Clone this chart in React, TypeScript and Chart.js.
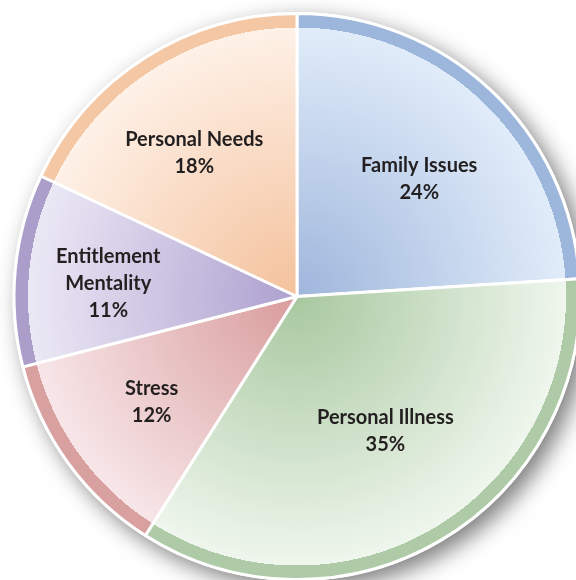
import React, { useEffect, useRef } from "react";
import { Chart, registerables } from "chart.js";

Chart.register(...registerables);

const categories: string[][] = [
  ["Family Issues"],
  ["Personal Illness"],
  ["Stress"],
  ["Entitlement", "Mentality"],
  ["Personal Needs"],
];
const values: number[] = [24, 35, 12, 11, 18];

// styling
const innerColors = ["#9fb6dc", "#a8c89f", "#d99c9c", "#ada0cf", "#f4c19b"];
const outerColors = ["#e0ecf9", "#eff6ed", "#f7e6e8", "#ebe8f5", "#fef1e7"];
const ringColors = ["#9db6dc", "#afcaa7", "#d8a09f", "#ab9ecb", "#f5c8a5"];
const labelRadius = [0.6, 0.565, 0.635, 0.67, 0.625];
const labelShiftX = [6, 7, 0, 0, -8];
const labelShiftY = [6, -3, 0, 5, 6];
const RADIUS = 283;
const RING = 14;

export default function App() {
  const ref = useRef<HTMLCanvasElement | null>(null);
  useEffect(() => {
    const canvas = ref.current;
    if (!canvas) return;

    const shadowPlugin = {
      id: "pieShadow",
      beforeDatasetsDraw(chart: any) {
        const arc = chart.getDatasetMeta(0).data[0];
        if (!arc) return;
        const ctx = chart.ctx;
        ctx.save();
        ctx.shadowColor = "rgba(0,0,0,0.5)";
        ctx.shadowBlur = 22;
        ctx.shadowOffsetX = 8;
        ctx.shadowOffsetY = 8;
        ctx.beginPath();
        ctx.arc(arc.x, arc.y, arc.outerRadius + 1.5, 0, Math.PI * 2);
        ctx.fillStyle = "#ffffff";
        ctx.fill();
        ctx.restore();
      },
    };

    const labelPlugin = {
      id: "sliceLabels",
      afterDatasetsDraw(chart: any) {
        const meta = chart.getDatasetMeta(0);
        const ctx = chart.ctx;
        ctx.save();
        ctx.font = "bold 20px Lato";
        ctx.fillStyle = "#231f20";
        ctx.textAlign = "center";
        ctx.textBaseline = "middle";
        meta.data.forEach((arc: any, i: number) => {
          const mid = (arc.startAngle + arc.endAngle) / 2;
          const r = arc.outerRadius * labelRadius[i];
          const x = arc.x + Math.cos(mid) * r + labelShiftX[i];
          const y = arc.y + Math.sin(mid) * r + labelShiftY[i];
          const lines = [...categories[i], values[i] + "%"];
          const lh = 27;
          const y0 = y - ((lines.length - 1) * lh) / 2;
          lines.forEach((t, j) => ctx.fillText(t, x, y0 + j * lh));
        });
        ctx.restore();
      },
    };

    const chart = new Chart(canvas, {
      type: "pie",
      data: {
        labels: categories,
        datasets: [
          {
            data: values,
            borderColor: "#ffffff",
            borderWidth: 3,
            backgroundColor: (c: any) => {
              const ch = c.chart;
              const area = ch.chartArea;
              const i = c.dataIndex;
              if (!area) return innerColors[i];
              const cx = (area.left + area.right) / 2;
              const cy = (area.top + area.bottom) / 2;
              const g = ch.ctx.createRadialGradient(cx, cy, 0, cx, cy, RADIUS);
              const f = (RADIUS - RING) / RADIUS;
              g.addColorStop(0, innerColors[i]);
              g.addColorStop(f, outerColors[i]);
              g.addColorStop(f, ringColors[i]);
              g.addColorStop(1, ringColors[i]);
              return g;
            },
          },
        ],
      },
      options: {
        responsive: false,
        animation: false,
        radius: RADIUS,
        layout: { padding: { left: 14, right: 20, top: 13, bottom: 0 } },
        plugins: {
          legend: { display: false },
          tooltip: { enabled: false },
        },
      } as any,
      plugins: [shadowPlugin, labelPlugin],
    });
    return () => chart.destroy();
  }, []);

  return (
    <div
      style={{
        position: "fixed",
        left: 0,
        top: 0,
        width: 576,
        height: 580,
        overflow: "hidden",
        background: "#ffffff",
      }}
    >
      <canvas ref={ref} width={600} height={580} style={{ display: "block" }} />
    </div>
  );
}
